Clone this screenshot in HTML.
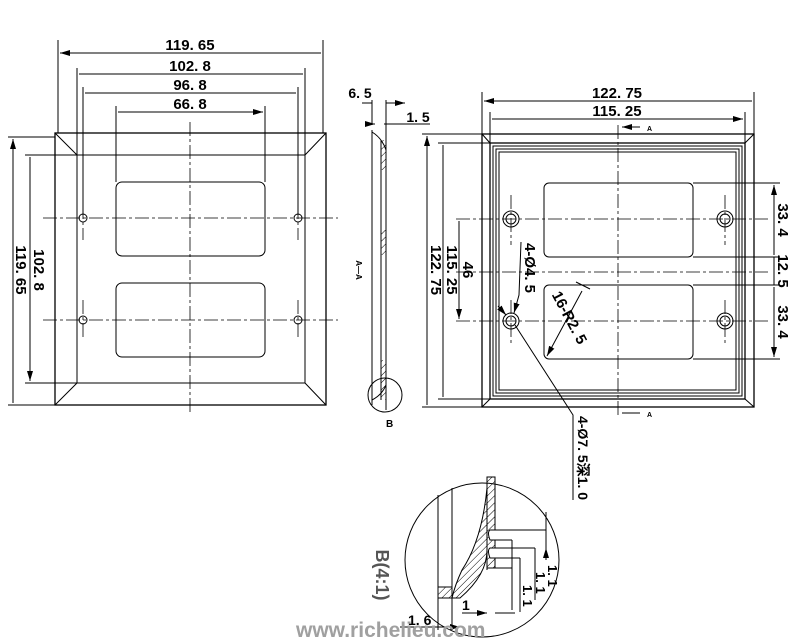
<!DOCTYPE html>
<html><head><meta charset="utf-8"><style>
body{margin:0;background:#fff}
svg{display:block}
text{font-family:"Liberation Sans",sans-serif;font-weight:bold;fill:#000}
</style></head><body>
<svg width="803" height="643" viewBox="0 0 803 643" xmlns="http://www.w3.org/2000/svg">
<defs>
<marker id="a" markerWidth="10" markerHeight="6" refX="10" refY="3" orient="auto-start-reverse" markerUnits="userSpaceOnUse"><path d="M0,0 L10,3 L0,6z" fill="#000"/></marker>
<pattern id="h" width="5" height="5" patternUnits="userSpaceOnUse" patternTransform="rotate(45)"><line x1="0" y1="0" x2="0" y2="5" stroke="#000" stroke-width="1"/></pattern>
</defs>
<g stroke="#000" fill="none" stroke-width="1">
<!-- LEFT VIEW -->
<rect x="55" y="133" width="271" height="272" stroke-width="1.3"/>
<rect x="77" y="155" width="228" height="228"/>
<path d="M55 133L77 155M326 133L305 155M55 405L77 383M326 405L305 383"/>
<rect x="116" y="182" width="149" height="74" rx="6"/>
<rect x="116" y="283" width="149" height="74" rx="6"/>
<circle cx="83" cy="218" r="4"/><circle cx="298" cy="218" r="4"/>
<circle cx="83" cy="320" r="4"/><circle cx="298" cy="320" r="4"/>
<g stroke-dasharray="14,3,3,3" stroke-width="0.8">
<path d="M43 218H338M43 320H338M190 122V415M83 205V240M298 205V240M83 300V340M298 300V340"/>
</g>
<path d="M58 40V133M323 40V133M77 68V155M305 68V155M83 87V215M298 87V215M116 106V182M265 106V182"/>
<path d="M60 53H321M79 74H303M85 93H296M118 112H263" marker-start="url(#a)" marker-end="url(#a)"/>
<path d="M8 137H55M25 155H77M25 383H77M8 405H55"/>
<path d="M13 139V403M30 157V381" marker-start="url(#a)" marker-end="url(#a)"/>
<!-- SIDE VIEW -->
<path d="M372 130V405M386 110V410M381 140V400M372 100V125M386 100V110"/>
<path d="M372 132Q382 138 386 150M372 400Q382 395 386 385"/>
<rect x="381" y="140" width="5" height="30" fill="url(#h)" stroke="none"/>
<rect x="381" y="230" width="5" height="25" fill="url(#h)" stroke="none"/>
<rect x="381" y="360" width="5" height="40" fill="url(#h)" stroke="none"/>
<path d="M362 103H372M386 103H405" marker-end="url(#a)"/>
<path d="M365 124H375M384 124H430"/>
<path d="M365 124H375" marker-end="url(#a)"/>
<circle cx="385" cy="395" r="17"/>
<!-- RIGHT VIEW -->
<rect x="482" y="134" width="272" height="273" stroke-width="1.3"/>
<rect x="490" y="143" width="255" height="256" stroke-width="1.3"/>
<rect x="493" y="146" width="249" height="250"/>
<rect x="496" y="149" width="243" height="244"/>
<rect x="499" y="152" width="237" height="238"/>
<path d="M482 134L490 143M754 134L745 143M482 407L490 399M754 407L745 399"/>
<rect x="544" y="183" width="149" height="74" rx="5"/>
<rect x="544" y="285" width="149" height="74" rx="5"/>
<circle cx="511" cy="219" r="8"/><circle cx="511" cy="219" r="5"/>
<circle cx="725" cy="219" r="8"/><circle cx="725" cy="219" r="5"/>
<circle cx="511" cy="321" r="8"/><circle cx="511" cy="321" r="5"/>
<circle cx="725" cy="321" r="8"/><circle cx="725" cy="321" r="5"/>
<g stroke-dasharray="14,3,3,3" stroke-width="0.8">
<path d="M456 219H768M456 272H768M456 321H768M618 125V415M511 195V245M725 195V245M511 300V345M725 300V345"/>
</g>
<path d="M482 92V134M754 92V134M490 112V143M745 112V143"/>
<path d="M484 101H752M492 119H743" marker-start="url(#a)" marker-end="url(#a)"/>
<path d="M422 134H482M438 143H490M438 399H490M422 407H482"/>
<path d="M427 136V405M443 145V397M459 221V319" marker-start="url(#a)" marker-end="url(#a)"/>
<path d="M693 183H780M693 257H780M693 285H780M693 359H780"/>
<path d="M774 185V255M774 287V357" marker-start="url(#a)" marker-end="url(#a)"/>
<path d="M774 257V285"/>
<path d="M622 127H640M622 413H640" marker-start="url(#a)"/>
<path d="M521 242L519 295L514 313" marker-end="url(#a)"/>
<path d="M582 291L547 356" marker-end="url(#a)"/>
<path d="M576 282L590 289"/>
<path d="M515 325L573 415V500"/>
<path d="M498 306L506 315" marker-end="url(#a)"/>
<!-- DETAIL B -->
<circle cx="482" cy="560" r="77"/>
<path d="M438 495V630M452 488V630M487 477V570M495 477V530"/>
<path d="M487 488Q482 540 462 570Q455 585 452 598H460Q487 575 487 550Z" fill="url(#h)"/>
<path d="M487 488V477H495V530H490Q487 532 490 540H495V548H490Q487 550 490 558H495V568H487Z" fill="url(#h)"/>
<rect x="438" y="587" width="14" height="11" fill="url(#h)"/>
<path d="M438 587H452M438 598H460"/>
<path d="M495 530H546M495 540H512M495 548H535M495 558H520M495 568H512M512 540V610M520 558V612M535 548V600"/>
<path d="M546 512V530M535 555V548M546 555V548" marker-end="url(#a)"/>
<path d="M546 530V560M520 595V580" />
<path d="M462 613H487M495 613H515"/>
<path d="M470 613H487" marker-end="url(#a)"/>
<path d="M400 627H460" marker-end="url(#a)"/>
</g>
<!-- TEXT -->
<text x="190" y="50" font-size="15" text-anchor="middle">119. 65</text>
<text x="190" y="71" font-size="15" text-anchor="middle">102. 8</text>
<text x="190" y="90" font-size="15" text-anchor="middle">96. 8</text>
<text x="190" y="109" font-size="15" text-anchor="middle">66. 8</text>
<text transform="translate(34,270) rotate(90)" font-size="15" text-anchor="middle">102. 8</text>
<text transform="translate(16,270) rotate(90)" font-size="15" text-anchor="middle">119. 65</text>
<text x="360" y="98" font-size="14" text-anchor="middle">6. 5</text>
<text x="418" y="122" font-size="14" text-anchor="middle">1. 5</text>
<text transform="translate(356,270) rotate(90)" font-size="8" font-weight="normal" text-anchor="middle">A—A</text>
<text x="386" y="427" font-size="10" font-weight="normal">B</text>
<text x="617" y="98" font-size="15" text-anchor="middle">122. 75</text>
<text x="617" y="116" font-size="15" text-anchor="middle">115. 25</text>
<text x="647" y="131" font-size="7" font-weight="normal">A</text>
<text x="647" y="417" font-size="7" font-weight="normal">A</text>
<text transform="translate(431,270) rotate(90)" font-size="15" text-anchor="middle">122. 75</text>
<text transform="translate(447,270) rotate(90)" font-size="15" text-anchor="middle">115. 25</text>
<text transform="translate(463,270) rotate(90)" font-size="15" text-anchor="middle">46</text>
<text transform="translate(778,220) rotate(90)" font-size="15" text-anchor="middle">33. 4</text>
<text transform="translate(778,271) rotate(90)" font-size="15" text-anchor="middle">12. 5</text>
<text transform="translate(778,322) rotate(90)" font-size="15" text-anchor="middle">33. 4</text>
<text transform="translate(525,268) rotate(90)" font-size="15" text-anchor="middle">4-Ø4. 5</text>
<text transform="translate(565,320) rotate(62)" font-size="15" text-anchor="middle">16-R2. 5</text>
<text transform="translate(578,458) rotate(90)" font-size="14" text-anchor="middle">4-Ø7. 5深1. 0</text>
<text transform="translate(376,575) rotate(90)" font-size="18" font-weight="normal" fill="#555" text-anchor="middle" style="fill:#555">B(4:1)</text>
<text x="408" y="625" font-size="14">1. 6</text>
<text x="462" y="610" font-size="14">1</text>
<text transform="translate(548,565) rotate(90)" font-size="13">1. 1</text>
<text transform="translate(536,572) rotate(90)" font-size="13">1. 1</text>
<text transform="translate(523,585) rotate(90)" font-size="13">1. 1</text>
<text x="296" y="637" font-size="21" font-weight="normal" style="fill:#a0a0a0">www.richelieu.com</text>
</svg>
</body></html>
